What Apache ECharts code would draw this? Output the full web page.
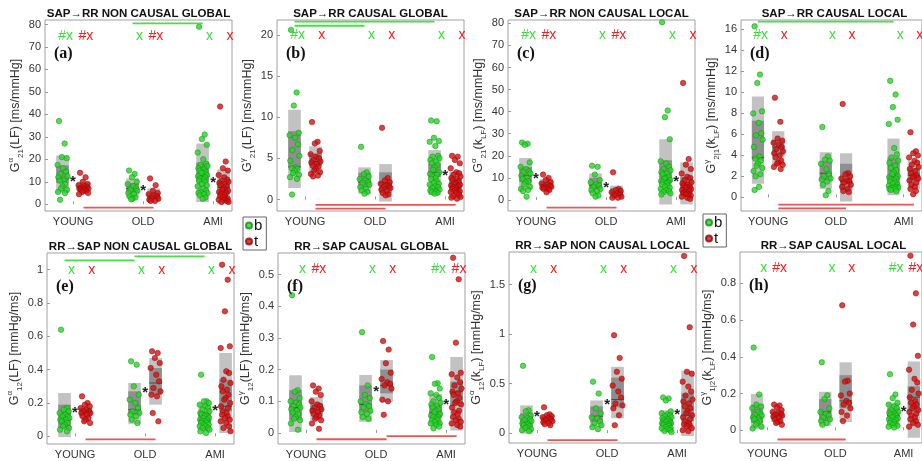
<!DOCTYPE html>
<html>
<head>
<meta charset="utf-8">
<script src="https://cdn.jsdelivr.net/npm/echarts@6/dist/echarts.min.js"></script>
<style>
  html, body { margin: 0; background: #fff; }
  #chart { width: 922px; height: 461px; }
</style>
</head>
<body>
<div id="chart"></div>
<script>
const groups = ["YOUNG", "OLD", "AMI"];

// ---- (a) SAP->RR non causal global ----
const aB = [
  [37, 27, 21, 20.5, 17.5, 16, 14.5, 13.5, 12.5, 12, 11, 10.5, 9, 8, 7, 6.5, 5.5, 5, 2],
  [15, 13.5, 12, 10, 9, 8, 7, 6.5, 6, 5, 4.5, 3.5, 3, 2.5, 2.2],
  [79, 31, 29, 26.5, 23, 20, 18, 17.5, 17, 16, 15.5, 15, 14.5, 14, 14, 13, 12.5, 12, 11.5, 11, 10.5, 10, 9, 8.5, 8, 7, 6, 5.5, 5, 5, 4.5, 4, 3, 2.5],
];
const aT = [
  [14, 12, 10, 9, 8.5, 8, 7.8, 7.5, 7, 7, 6.8, 6.5, 6, 6, 5.5, 5, 4.5],
  [11.5, 8.5, 6, 5, 4.5, 4, 3.5, 3, 2.5, 2, 1.5, 1.5],
  [43.5, 19, 16, 15, 13, 12, 11, 10.5, 10, 9.5, 9, 8.5, 8, 7, 6.5, 6, 5.5, 5, 4.5, 4, 3.5, 3, 3, 2.5, 2, 2, 1.5, 1, 1],
];
// [low, high, innerLow, innerHigh, line]
const aBoxB = [[5, 21.7, 9.5, 17.3, 11.4], [3, 11.5, 5, 9.5, 7], [1, 27, 10, 18.5, 12.5]];
const aBoxT = [[5.5, 10, 6.5, 8.5, 7.3], [1, 7, 2, 5, 3.5], [0, 15.5, 4.5, 10.5, 7.5]];
const aStar = [10, 6, 9.5];
const aMarkB = ["#x", "x", "x"];
const aMarkT = ["#x", "#x", "x"];
const aSigB = [[1, 2, 80.5]];
const aSigT = [[0, 1, -1.5]];
const aTicks = [0, 10, 20, 30, 40, 50, 60, 70, 80];

// ---- (b) SAP->RR causal global ----
const bB = [
  [20.6, 13, 11.4, 8.1, 7.8, 7.5, 6.7, 6, 5.3, 4.7, 3.9, 3.8, 3.7, 3.5, 3.2, 3, 2.7, 2.5, 0.6],
  [6.4, 3.3, 3.1, 2.8, 2.5, 2.3, 2.1, 2, 1.8, 1.5, 1.3, 1.1, 0.9, 0.7],
  [9.6, 9.5, 7.5, 7.1, 7, 6.5, 5.3, 5.2, 5, 4.8, 4.6, 4.4, 4.2, 3.9, 3.6, 3.3, 3.1, 3, 2.8, 2.6, 2.5, 2.2, 2, 1.9, 1.8, 1.6, 1.5, 1.4, 1.2, 1.1, 1, 0.9, 0.8, 0.7],
];
const bT = [
  [9.4, 7, 6.8, 5.9, 5.5, 5.2, 5, 4.8, 4.6, 4.5, 4.3, 4.1, 4, 3.7, 3.5, 3.3, 3.1, 2.9, 2.8],
  [8.7, 2.6, 2.3, 2.1, 1.9, 1.7, 1.6, 1.5, 1.4, 1.2, 1, 0.8, 0.6, 0.5],
  [5.3, 5.2, 4.8, 4.4, 3.8, 3.3, 3.2, 3, 2.8, 2.6, 2.5, 2.4, 2.2, 2, 1.9, 1.8, 1.7, 1.6, 1.5, 1.4, 1.3, 1.2, 1.1, 1, 0.9, 0.8, 0.6, 0.4, 0.3, 0.2, 0.1],
];
const bBoxB = [[1.4, 10.9, 3.9, 8.3, 3.95], [0.7, 3.9, 1.45, 3.25, 2.1], [0.55, 6, 2.75, 4.4, 3.3]];
const bBoxT = [[3.15, 6.45, 4.1, 5.6, 4.6], [-0.25, 4.3, 0.8, 3.3, 2], [0.2, 3.4, 1.4, 2.5, 2]];
const bStar = [null, null, 2.9];
const bMarkB = ["#x", "x", "x"];
const bMarkT = ["x", "x", "x"];
const bSigB = [[0, 2, 21.6], [0, 1, 21.1]];
const bSigT = [[0, 2, -0.65], [0, 1, -1.1]];
const bTicks = [0, 5, 10, 15, 20];

// ---- (c) SAP->RR non causal local ----
const cB = [
  [26, 25.5, 25, 17, 15, 14, 13, 12.5, 12, 11, 10, 9.5, 8.5, 8, 7, 6, 5, 4.5, 4, 1.5],
  [15.5, 15, 11.5, 9, 8, 7, 6.5, 6, 5, 4.5, 4, 3, 2, 1.5],
  [80.5, 40.5, 37.5, 27.5, 17.5, 16.5, 15, 14, 13.5, 12.5, 12, 11.5, 10.5, 10, 9.5, 9, 8.5, 8, 8, 7.5, 7, 6.5, 6, 5.5, 5, 4.5, 4, 3.5, 3, 2.5],
];
const cT = [
  [11.5, 10, 9, 8, 7.5, 7, 6.5, 6, 6, 5.5, 5, 5, 4.5, 3.5],
  [12.5, 5, 4.5, 4, 3.5, 3, 2.5, 2, 1.5, 1, 1],
  [53, 18.5, 16, 14, 12, 10.5, 10, 9, 8, 7.5, 7, 6.5, 6, 6, 5.5, 5, 4.5, 4, 3.5, 3, 3, 2.5, 2.5, 2, 1.5, 1, 0.5],
];
const cBoxB = [[4.5, 19, 8, 15, 11], [3, 12, 5, 10, 6.5], [-2, 27.5, 8, 18, 8.5]];
const cBoxT = [[5, 9.5, 6, 8, 7], [1, 6.5, 2, 5.5, 3.5], [-2, 17, 3, 10.5, 5.5]];
const cStar = [9.5, 5.5, 8];
const cMarkB = ["#x", "x", "x"];
const cMarkT = ["#x", "#x", "x"];
const cSigB = [];
const cSigT = [[0, 1, -3.5]];
const cTicks = [0, 10, 20, 30, 40, 50, 60, 70, 80];

// ---- (d) SAP->RR causal local ----
const dB = [
  [16.3, 11.7, 10.9, 8.2, 8, 7.1, 6.1, 5.9, 5.5, 4.8, 3.9, 3.7, 3.5, 3.2, 3, 2.8, 2.5, 2.2, 2, 1, 0.7],
  [6.7, 3.9, 3.6, 3.5, 3.2, 2.7, 2.2, 2, 1.8, 1.7, 1.5, 1.2, 0.6, 0.2],
  [11.1, 9.8, 8.6, 7.4, 7, 4.7, 4.1, 3.8, 3.5, 3.3, 3, 2.8, 2.6, 2.4, 2.2, 2, 1.9, 1.8, 1.7, 1.6, 1.5, 1.4, 1.3, 1.2, 1.1, 1, 1, 0.9, 0.9, 0.8, 0.8, 0.7, 0.6],
];
const dT = [
  [9.5, 7.2, 5.6, 5.4, 5.2, 5, 4.8, 4.6, 4.4, 4.2, 4, 3.8, 3.5, 3.3, 3.2, 3.1, 2.9, 2.7],
  [8.9, 2.3, 2.2, 2, 1.8, 1.6, 1.5, 1.4, 1.2, 1, 0.8, 0.6, 0.5],
  [6.2, 4.4, 4.2, 4, 3.8, 3.5, 3.3, 3.1, 2.9, 2.7, 2.5, 2.3, 2.1, 2, 1.9, 1.8, 1.6, 1.4, 1.2, 1, 0.8, 0.6, 0.3],
];
const dBoxB = [[1.3, 9.6, 3.6, 7.3, 3.8], [0.8, 4.3, 1.6, 3.4, 2.3], [0.2, 5.6, 1.3, 3.8, 2]];
const dBoxT = [[3.1, 6.3, 4, 5.5, 4.8], [-0.4, 4.2, 0.7, 3.2, 1.5], [0.8, 3.5, 1.5, 2.8, 2.1]];
const dStar = [null, null, null];
const dMarkB = ["#x", "x", "x"];
const dMarkT = ["x", "x", "x"];
const dSigB = [[0, 2, 16.75]];
const dSigT = [[0, 2, -0.7], [0, 1, -1.05]];
const dTicks = [0, 2, 4, 6, 8, 10, 12, 14, 16];

// ---- (e) RR->SAP non causal global ----
const eB = [
  [0.64, 0.17, 0.16, 0.15, 0.14, 0.13, 0.12, 0.12, 0.11, 0.1, 0.1, 0.09, 0.08, 0.07, 0.06, 0.05, 0.04, 0.03],
  [0.45, 0.43, 0.3, 0.25, 0.22, 0.2, 0.17, 0.15, 0.14, 0.13, 0.12, 0.1, 0.08],
  [0.37, 0.21, 0.21, 0.2, 0.19, 0.18, 0.17, 0.16, 0.15, 0.14, 0.13, 0.13, 0.12, 0.12, 0.11, 0.11, 0.1, 0.1, 0.09, 0.09, 0.08, 0.08, 0.07, 0.07, 0.06, 0.06, 0.05, 0.05, 0.04, 0.03, 0.02],
];
const eT = [
  [0.24, 0.2, 0.19, 0.18, 0.17, 0.16, 0.15, 0.15, 0.14, 0.14, 0.13, 0.12, 0.11, 0.1, 0.09, 0.08],
  [0.51, 0.5, 0.47, 0.44, 0.41, 0.37, 0.33, 0.29, 0.27, 0.25, 0.24, 0.14, 0.09],
  [1.03, 0.94, 0.75, 0.54, 0.53, 0.39, 0.38, 0.34, 0.32, 0.3, 0.28, 0.27, 0.25, 0.23, 0.22, 0.2, 0.18, 0.17, 0.15, 0.14, 0.13, 0.12, 0.11, 0.1, 0.09, 0.08, 0.06, 0.05, 0.03],
];
const eBoxB = [[-0.005, 0.26, 0.05, 0.19, 0.1], [0.075, 0.32, 0.13, 0.27, 0.16], [0.03, 0.2, 0.08, 0.15, 0.1]];
const eBoxT = [[0.11, 0.18, 0.125, 0.17, 0.15], [0.19, 0.47, 0.25, 0.41, 0.32], [0.02, 0.5, 0.15, 0.34, 0.18]];
const eStar = [0.14, 0.26, 0.15];
const eMarkB = ["x", "x", "x"];
const eMarkT = ["x", "x", "x"];
const eSigB = [[0, 1, 1.056], [1, 2, 1.08]];
const eSigT = [[0, 1, -0.018]];
const eTicks = [0, 0.2, 0.4, 0.6, 0.8, 1];

// ---- (f) RR->SAP causal global ----
const fB = [
  [0.435, 0.135, 0.13, 0.11, 0.1, 0.095, 0.09, 0.085, 0.08, 0.075, 0.07, 0.065, 0.06, 0.05, 0.045, 0.04, 0.03, 0.01],
  [0.318, 0.15, 0.12, 0.11, 0.1, 0.09, 0.085, 0.08, 0.07, 0.065, 0.06, 0.05, 0.045],
  [0.24, 0.157, 0.155, 0.14, 0.125, 0.12, 0.11, 0.1, 0.095, 0.09, 0.085, 0.08, 0.075, 0.07, 0.065, 0.06, 0.055, 0.05, 0.05, 0.045, 0.04, 0.04, 0.035, 0.03, 0.03, 0.025, 0.02, 0.015],
];
const fT = [
  [0.15, 0.14, 0.13, 0.12, 0.1, 0.09, 0.085, 0.08, 0.075, 0.07, 0.065, 0.06, 0.055, 0.05, 0.045, 0.04, 0.03, 0.013],
  [0.29, 0.263, 0.22, 0.19, 0.17, 0.16, 0.155, 0.15, 0.14, 0.105, 0.1, 0.057],
  [0.553, 0.485, 0.285, 0.19, 0.185, 0.175, 0.16, 0.15, 0.14, 0.13, 0.125, 0.12, 0.11, 0.1, 0.095, 0.09, 0.08, 0.07, 0.065, 0.06, 0.05, 0.045, 0.04, 0.035, 0.03, 0.025, 0.02],
];
const fBoxB = [[0.003, 0.182, 0.04, 0.135, 0.08], [0.035, 0.183, 0.065, 0.15, 0.09], [0.022, 0.123, 0.05, 0.09, 0.065]];
const fBoxT = [[0.04, 0.113, 0.06, 0.095, 0.075], [0.097, 0.23, 0.125, 0.2, 0.15], [0.008, 0.24, 0.085, 0.162, 0.13]];
const fStar = [null, 0.13, 0.088];
const fMarkB = ["x", "x", "#x"];
const fMarkT = ["#x", "x", "#x"];
const fSigB = [];
const fSigT = [[0, 1, -0.02], [1, 2, -0.01]];
const fTicks = [0, 0.1, 0.2, 0.3, 0.4, 0.5];

// ---- (g) RR->SAP non causal local ----
const gB = [
  [0.68, 0.23, 0.22, 0.18, 0.16, 0.15, 0.14, 0.13, 0.12, 0.1, 0.09, 0.08, 0.07, 0.06, 0.05, 0.04, 0.03, 0.02],
  [0.52, 0.4, 0.25, 0.2, 0.16, 0.15, 0.12, 0.1, 0.08, 0.06, 0.04],
  [0.36, 0.35, 0.33, 0.22, 0.2, 0.19, 0.18, 0.17, 0.16, 0.15, 0.14, 0.13, 0.12, 0.12, 0.11, 0.1, 0.1, 0.09, 0.09, 0.08, 0.08, 0.07, 0.06, 0.05, 0.05, 0.04, 0.03, 0.02, 0.01],
];
const gT = [
  [0.26, 0.19, 0.18, 0.17, 0.16, 0.15, 0.14, 0.13, 0.12, 0.11, 0.1, 0.09, 0.08],
  [0.99, 0.76, 0.62, 0.55, 0.48, 0.42, 0.36, 0.3, 0.28, 0.25, 0.18, 0.08],
  [1.79, 1.07, 0.62, 0.6, 0.52, 0.47, 0.42, 0.38, 0.34, 0.32, 0.3, 0.27, 0.25, 0.22, 0.2, 0.18, 0.16, 0.14, 0.12, 0.1, 0.09, 0.08, 0.07, 0.05, 0.03, 0.02],
];
const gBoxB = [[-0.005, 0.28, 0.06, 0.2, 0.11], [0.06, 0.33, 0.11, 0.27, 0.17], [0.01, 0.23, 0.07, 0.15, 0.1]];
const gBoxT = [[0.1, 0.19, 0.12, 0.17, 0.15], [0.15, 0.67, 0.26, 0.56, 0.34], [-0.03, 0.63, 0.12, 0.4, 0.18]];
const gStar = [0.16, 0.29, 0.18];
const gMarkB = ["x", "x", "x"];
const gMarkT = ["x", "x", "x"];
const gSigB = [];
const gSigT = [[0, 1, -0.07]];
const gTicks = [0, 0.5, 1, 1.5];

// ---- (h) RR->SAP causal local ----
const hB = [
  [0.45, 0.195, 0.14, 0.13, 0.12, 0.1, 0.09, 0.085, 0.08, 0.07, 0.065, 0.06, 0.05, 0.04, 0.03, 0.02, 0.01],
  [0.37, 0.19, 0.17, 0.12, 0.1, 0.09, 0.08, 0.07, 0.06, 0.05, 0.04, 0.03],
  [0.305, 0.195, 0.175, 0.15, 0.14, 0.13, 0.12, 0.11, 0.1, 0.095, 0.09, 0.085, 0.08, 0.075, 0.07, 0.065, 0.06, 0.055, 0.05, 0.045, 0.04, 0.035, 0.03, 0.025, 0.02, 0.015],
];
const hT = [
  [0.14, 0.135, 0.125, 0.11, 0.1, 0.095, 0.09, 0.085, 0.08, 0.075, 0.07, 0.06, 0.05, 0.045, 0.04, 0.03],
  [0.68, 0.27, 0.265, 0.2, 0.19, 0.16, 0.15, 0.14, 0.12, 0.1, 0.08, 0.05],
  [0.95, 0.745, 0.575, 0.405, 0.33, 0.28, 0.26, 0.22, 0.2, 0.18, 0.16, 0.15, 0.14, 0.13, 0.12, 0.11, 0.1, 0.09, 0.08, 0.07, 0.06, 0.05, 0.04, 0.03, 0.02],
];
const hBoxB = [[0.005, 0.197, 0.04, 0.14, 0.07], [0.025, 0.21, 0.05, 0.17, 0.1], [0.02, 0.15, 0.06, 0.12, 0.08]];
const hBoxT = [[0.045, 0.12, 0.065, 0.1, 0.08], [0.045, 0.37, 0.12, 0.3, 0.16], [-0.04, 0.375, 0.1, 0.24, 0.18]];
const hStar = [null, null, 0.103];
const hMarkB = ["x", "x", "#x"];
const hMarkT = ["#x", "x", "#x"];
const hSigB = [];
const hSigT = [[0, 1, -0.05]];
const hTicks = [0, 0.2, 0.4, 0.6, 0.8];

// ---- layout / styling ----
const FONT = "Liberation Sans, Arial, Helvetica, sans-serif";
const GREEN = "#25d625", GREEN_EDGE = "#168a16";
const RED = "#d80f0f", RED_EDGE = "#8a0a0a";
const JIT = [-0.05, 0.03, -0.01, 0.06, -0.07, 0.01, 0.05, -0.03, 0.07, -0.06, 0.02, -0.04, 0.04, 0, -0.02, 0.065, -0.065, 0.035, -0.035, 0.015];
const OFF = 0.15;

const panels = [
  { tag: "(a)", title: "SAP\u2192RR NON CAUSAL GLOBAL", left: 45, top: 20, min: -3, max: 82, ticks: aTicks, gap: 16,
    name: "G{sup|\u03b1}{sub|21}(LF) [ms/mmHg]", b: aB, t: aT, boxB: aBoxB, boxT: aBoxT, star: aStar, markB: aMarkB, markT: aMarkT, markY: 75, sigB: aSigB, sigT: aSigT },
  { tag: "(b)", title: "SAP\u2192RR CAUSAL GLOBAL", left: 277, top: 20, min: -1.4, max: 21.8, ticks: bTicks, gap: 16,
    name: "G{sup|\u03b3}{sub|21}(LF) [ms/mmHg]", b: bB, t: bT, boxB: bBoxB, boxT: bBoxT, star: bStar, markB: bMarkB, markT: bMarkT, markY: 20, sigB: bSigB, sigT: bSigT },
  { tag: "(c)", title: "SAP\u2192RR NON CAUSAL LOCAL", left: 508, top: 20, min: -5, max: 81.5, ticks: cTicks, gap: 16,
    name: "G{sup|\u03b1}{sub|21}(k{sub|LF}) [ms/mmHg]", b: cB, t: cT, boxB: cBoxB, boxT: cBoxT, star: cStar, markB: cMarkB, markT: cMarkT, markY: 74.7, sigB: cSigB, sigT: cSigT },
  { tag: "(d)", title: "SAP\u2192RR CAUSAL LOCAL", left: 741, top: 20, min: -1.3, max: 16.9, ticks: dTicks, gap: 16,
    name: "G{sup|\u03b3}{sub|2|1}(k{sub|LF}) [ms/mmHg]", b: dB, t: dT, boxB: dBoxB, boxT: dBoxT, star: dStar, markB: dMarkB, markT: dMarkT, markY: 15.5, sigB: dSigB, sigT: dSigT },
  { tag: "(e)", title: "RR\u2192SAP NON CAUSAL GLOBAL", left: 47, top: 253, min: -0.046, max: 1.1, ticks: eTicks, gap: 22,
    name: "G{sup|\u03b1}{sub|12}(LF) [mmHg/ms]", b: eB, t: eT, boxB: eBoxB, boxT: eBoxT, star: eStar, markB: eMarkB, markT: eMarkT, markY: 1.0, sigB: eSigB, sigT: eSigT },
  { tag: "(f)", title: "RR\u2192SAP CAUSAL GLOBAL", left: 278, top: 253, min: -0.035, max: 0.568, ticks: fTicks, gap: 22,
    name: "G{sup|\u03b3}{sub|12}(LF) [mmHg/ms]", b: fB, t: fT, boxB: fBoxB, boxT: fBoxT, star: fStar, markB: fMarkB, markT: fMarkT, markY: 0.517, sigB: fSigB, sigT: fSigT },
  { tag: "(g)", title: "RR\u2192SAP NON CAUSAL LOCAL", left: 509, top: 252, min: -0.1, max: 1.83, ticks: gTicks, gap: 22,
    name: "G{sup|\u03b1}{sub|12}(k{sub|LF}) [mmHg/ms]", b: gB, t: gT, boxB: gBoxB, boxT: gBoxT, star: gStar, markB: gMarkB, markT: gMarkT, markY: 1.66, sigB: gSigB, sigT: gSigT },
  { tag: "(h)", title: "RR\u2192SAP CAUSAL LOCAL", left: 740, top: 252, min: -0.069, max: 0.97, ticks: hTicks, gap: 22,
    name: "G{sup|\u03b3}{sub|1|2}(k{sub|LF}) [mmHg/ms]", b: hB, t: hT, boxB: hBoxB, boxT: hBoxT, star: hStar, markB: hMarkB, markT: hMarkT, markY: 0.88, sigB: hSigB, sigT: hSigT },
];

const W = 187, H = 191;

function renderBox(params, api) {
  const x = api.value(0);
  const hw = 0.09;
  const rect = (lo, hi, fill) => {
    const p1 = api.coord([x - hw, hi]);
    const p2 = api.coord([x + hw, lo]);
    return { type: "rect", shape: { x: p1[0], y: p1[1], width: p2[0] - p1[0], height: p2[1] - p1[1] }, style: { fill } };
  };
  const m1 = api.coord([x - hw, api.value(5)]);
  const m2 = api.coord([x + hw, api.value(5)]);
  return {
    type: "group",
    children: [
      rect(api.value(1), api.value(2), "#c2c2c2"),
      rect(api.value(3), api.value(4), "#8f8f8f"),
      { type: "line", shape: { x1: m1[0], y1: m1[1], x2: m2[0], y2: m2[1] }, style: { stroke: "#4a4a4a", lineWidth: 1 } },
    ],
  };
}

function textRenderer(items) {
  return function (params, api) {
    const it = items[params.dataIndex];
    const pt = api.coord([it.x, it.y]);
    return {
      type: "text",
      style: { x: pt[0], y: pt[1], text: it.text, fill: it.color, font: it.font, align: it.align, verticalAlign: "middle" },
    };
  };
}

const grid = [], xAxis = [], yAxis = [], series = [], title = [];

panels.forEach((p, k) => {
  grid.push({ left: p.left, top: p.top, width: W, height: H, show: true, borderColor: "#a0a0a0", borderWidth: 1, backgroundColor: "#fff" });
  xAxis.push({
    gridIndex: k, type: "value", min: 0.6, max: 3.27,
    axisLine: { show: false },
    axisTick: { inside: true, length: 3, lineStyle: { color: "#999" }, customValues: [1, 2, 3] },
    axisLabel: { customValues: [1, 2, 3], formatter: (v) => groups[Math.round(v) - 1], color: "#333", fontSize: 11, fontFamily: FONT, margin: 5 },
    splitLine: { show: false },
  });
  yAxis.push({
    gridIndex: k, type: "value", min: p.min, max: p.max,
    name: p.name, nameLocation: "middle", nameGap: p.gap, nameRotate: 90,
    nameTextStyle: {
      color: "#333", fontSize: 12.5, fontFamily: FONT, lineHeight: 18,
      rich: {
        sup: { fontSize: 8, fontFamily: FONT, color: "#333", verticalAlign: "top", lineHeight: 18 },
        sub: { fontSize: 8, fontFamily: FONT, color: "#333", verticalAlign: "bottom", lineHeight: 18 },
      },
    },
    axisLine: { show: false },
    axisTick: { inside: true, length: 3, lineStyle: { color: "#999" }, customValues: p.ticks },
    axisLabel: { customValues: p.ticks, color: "#333", fontSize: 11, fontFamily: FONT, margin: 4 },
    splitLine: { show: false },
  });

  title.push({ text: p.title, left: p.left + W / 2, top: p.top - 12, textAlign: "center", padding: 0,
    textStyle: { fontSize: 11.5, fontWeight: "bold", color: "#111", fontFamily: FONT } });
  title.push({ text: p.tag, left: p.left + 9, top: p.top + 26, padding: 0,
    textStyle: { fontSize: 16, fontWeight: "bold", color: "#111", fontFamily: "Liberation Serif, Times New Roman, serif" } });

  // boxes
  const boxData = [];
  for (let g = 0; g < 3; g++) {
    boxData.push([g + 1 - OFF].concat(p.boxB[g]));
    boxData.push([g + 1 + OFF].concat(p.boxT[g]));
  }
  series.push({ type: "custom", xAxisIndex: k, yAxisIndex: k, renderItem: renderBox, data: boxData, encode: { x: 0, y: 1 }, silent: true, z: 1 });

  // points
  const pts = (vals, sign) => {
    const out = [];
    vals.forEach((arr, g) => arr.forEach((v, i) => out.push([g + 1 + sign * OFF + JIT[i % JIT.length], v])));
    return out;
  };
  series.push({ name: "b", type: "scatter", xAxisIndex: k, yAxisIndex: k, data: pts(p.b, -1), symbolSize: 5.5,
    itemStyle: { color: GREEN, borderColor: GREEN_EDGE, borderWidth: 0.6 }, z: 3 });
  series.push({ name: "t", type: "scatter", xAxisIndex: k, yAxisIndex: k, data: pts(p.t, 1), symbolSize: 5.5,
    itemStyle: { color: RED, borderColor: RED_EDGE, borderWidth: 0.6 }, z: 3 });

  // significance lines
  p.sigB.forEach((s) => series.push({ type: "line", xAxisIndex: k, yAxisIndex: k, showSymbol: false, silent: true, z: 4,
    data: [[s[0] + 1 - OFF, s[2]], [s[1] + 1 - OFF, s[2]]], lineStyle: { color: "#44e044", width: 1.8 } }));
  p.sigT.forEach((s) => series.push({ type: "line", xAxisIndex: k, yAxisIndex: k, showSymbol: false, silent: true, z: 4,
    data: [[s[0] + 1 + OFF, s[2]], [s[1] + 1 + OFF, s[2]]], lineStyle: { color: "#ec5454", width: 1.8 } }));

  // text marks: stars and #x / x
  const items = [];
  for (let g = 0; g < 3; g++) {
    if (p.star[g] != null) items.push({ x: g + 1, y: p.star[g], text: "*", color: "#222", font: "bold 15px " + FONT, align: "center" });
    items.push({ x: g + 1 - OFF + 0.15, y: p.markY, text: p.markB[g], color: "#3ade3a", font: "14px " + FONT, align: "right" });
    items.push({ x: g + 1 + OFF + 0.14, y: p.markY, text: p.markT[g], color: "#ee2020", font: "14px " + FONT, align: "right" });
  }
  series.push({ type: "custom", xAxisIndex: k, yAxisIndex: k, renderItem: textRenderer(items), data: items.map((it) => [it.x, it.y]),
    encode: { x: 0, y: 1 }, silent: true, z: 5 });
});

const legendBase = {
  data: [{ name: "b", icon: "circle" }, { name: "t", icon: "circle" }],
  orient: "vertical", itemWidth: 6, itemHeight: 6, itemGap: 1,
  padding: [1, 4, 1, 2], borderColor: "#666", borderWidth: 1, backgroundColor: "#fff",
  textStyle: { fontSize: 15, color: "#111", fontFamily: FONT, padding: [0, 0, 0, -3] },
  selectedMode: false,
};

const chart = echarts.init(document.getElementById("chart"));
chart.setOption({
  animation: false,
  backgroundColor: "#fff",
  title,
  legend: [
    Object.assign({}, legendBase, { left: 243, top: 217 }),
    Object.assign({}, legendBase, { left: 703, top: 214 }),
  ],
  grid, xAxis, yAxis, series,
});
</script>
</body>
</html>
